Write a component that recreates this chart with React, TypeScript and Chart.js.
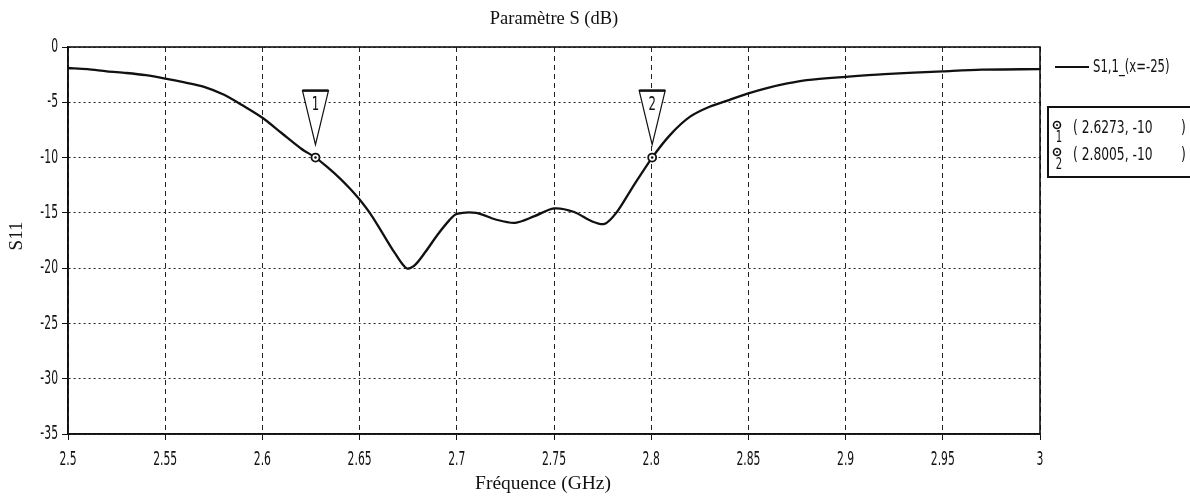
import React, { useEffect, useRef } from "react";
import { Chart, registerables } from "chart.js";

Chart.register(...registerables);

// ---- Data ----
const freqGHz = [
  2.5, 2.51, 2.52, 2.53, 2.54, 2.55, 2.56, 2.57, 2.58, 2.59, 2.6, 2.61, 2.62, 2.6273,
  2.633, 2.64, 2.645, 2.65, 2.656, 2.662, 2.668, 2.674, 2.678, 2.684, 2.69, 2.696,
  2.7, 2.71, 2.72, 2.73, 2.74, 2.75, 2.76, 2.77, 2.776, 2.782, 2.79, 2.8005, 2.81,
  2.82, 2.83, 2.84, 2.85, 2.86, 2.87, 2.88, 2.9, 2.92, 2.95, 2.97, 3.0,
];
const s11dB = [
  -1.9, -2.0, -2.2, -2.35, -2.55, -2.85, -3.2, -3.6, -4.3, -5.3, -6.4, -7.8, -9.2, -10,
  -10.8, -11.9, -12.8, -13.8, -15.2, -16.9, -18.6, -20.0, -19.8, -18.5, -17.0, -15.7,
  -15.1, -15.0, -15.6, -15.9, -15.3, -14.6, -14.9, -15.8, -16.0, -15.0, -12.8, -10.0, -7.9,
  -6.3, -5.4, -4.8, -4.2, -3.7, -3.3, -3.0, -2.7, -2.45, -2.2, -2.05, -2.0,
];
const xTicks = [2.5, 2.55, 2.6, 2.65, 2.7, 2.75, 2.8, 2.85, 2.9, 2.95, 3];
const yTicks = [0, -5, -10, -15, -20, -25, -30, -35];
const markerFreqs = [2.6273, 2.8005];
const markerValues = [-10, -10];
const markerLabels = ["1", "2"];
const markerTexts = ["( 2.6273, -10", "( 2.8005, -10"];
const seriesLabel = "S1,1_(x=-25)";
const chartTitle = "Paramètre S (dB)";
const xTitle = "Fréquence (GHz)";
const yTitle = "S11";

const COND = "'DejaVu Sans Condensed', 'DejaVu Sans', sans-serif";
const SERIF = "'Liberation Serif', 'DejaVu Serif', serif";
const INK = "#111111";

function narrowText(
  ctx: CanvasRenderingContext2D,
  text: string,
  x: number,
  y: number,
  size: number,
  sx: number,
  align: CanvasTextAlign
) {
  ctx.save();
  ctx.translate(x, y);
  ctx.scale(sx, 1);
  ctx.font = `${size}px ${COND}`;
  ctx.textAlign = align;
  ctx.textBaseline = "middle";
  ctx.fillText(text, 0, 0);
  ctx.restore();
}

const overlayPlugin = {
  id: "overlay",
  afterDraw(chart: any) {
    const { ctx, chartArea, scales } = chart;
    const { left, right, top, bottom } = chartArea;
    ctx.save();
    // frame
    ctx.strokeStyle = INK;
    ctx.lineWidth = 1.6;
    ctx.setLineDash([]);
    ctx.strokeRect(left, top, right - left, bottom - top);

    // tick labels (from the library's ticks)
    ctx.fillStyle = INK;
    scales.x.ticks.forEach((t: any) => {
      const px = scales.x.getPixelForValue(t.value);
      narrowText(ctx, String(Number(Number(t.value).toFixed(2))), px, bottom + 26, 20, 0.6, "center");
    });
    scales.y.ticks.forEach((t: any) => {
      const py = scales.y.getPixelForValue(t.value);
      narrowText(ctx, String(t.value), left - 10, py, 20, 0.6, "right");
    });

    // titles
    ctx.fillStyle = INK;
    ctx.font = `18.5px ${SERIF}`;
    ctx.textAlign = "center";
    ctx.textBaseline = "middle";
    ctx.fillText(chartTitle, 554, 19);
    ctx.font = `19.5px ${SERIF}`;
    ctx.fillText(xTitle, 543, 484);
    ctx.save();
    ctx.translate(17, 236);
    ctx.rotate(-Math.PI / 2);
    ctx.font = `19px ${SERIF}`;
    ctx.fillText(yTitle, 0, 0);
    ctx.restore();

    // markers
    markerFreqs.forEach((f, i) => {
      const px = scales.x.getPixelForValue(f);
      const py = scales.y.getPixelForValue(markerValues[i]);
      const tTop = py - 67;
      const tip = py - 13;
      ctx.strokeStyle = INK;
      ctx.fillStyle = "#ffffff";
      ctx.lineWidth = 1.2;
      ctx.beginPath();
      ctx.moveTo(px - 13, tTop);
      ctx.lineTo(px + 13, tTop);
      ctx.lineTo(px, tip);
      ctx.closePath();
      ctx.fill();
      ctx.stroke();
      ctx.lineWidth = 2.5;
      ctx.beginPath();
      ctx.moveTo(px - 13, tTop);
      ctx.lineTo(px + 13, tTop);
      ctx.stroke();
      ctx.fillStyle = INK;
      narrowText(ctx, markerLabels[i], px, tTop + 14, 20, 0.65, "center");
      // circle
      ctx.fillStyle = "#ffffff";
      ctx.lineWidth = 1.8;
      ctx.beginPath();
      ctx.arc(px, py, 4, 0, Math.PI * 2);
      ctx.fill();
      ctx.stroke();
      ctx.fillStyle = INK;
      ctx.beginPath();
      ctx.arc(px, py, 1.3, 0, Math.PI * 2);
      ctx.fill();
    });

    // legend line
    ctx.strokeStyle = INK;
    ctx.lineWidth = 2;
    ctx.beginPath();
    ctx.moveTo(1055, 67);
    ctx.lineTo(1089, 67);
    ctx.stroke();
    ctx.fillStyle = INK;
    narrowText(ctx, seriesLabel, 1093, 67, 17.5, 0.74, "left");

    // marker box
    ctx.lineWidth = 2;
    ctx.strokeRect(1048, 107, 150, 70);
    markerTexts.forEach((t, i) => {
      const y = 128 + i * 27;
      ctx.fillStyle = INK;
      narrowText(ctx, t, 1073, y, 17.5, 0.78, "left");
      narrowText(ctx, ")", 1181, y, 17.5, 0.78, "left");
      ctx.lineWidth = 1.6;
      ctx.beginPath();
      ctx.arc(1057, y - 3, 3.5, 0, Math.PI * 2);
      ctx.stroke();
      ctx.beginPath();
      ctx.arc(1057, y - 3, 1, 0, Math.PI * 2);
      ctx.fill();
      narrowText(ctx, markerLabels[i], 1059, y + 10, 16, 0.7, "center");
    });
    ctx.restore();
  },
};

export default function App() {
  const ref = useRef<HTMLCanvasElement | null>(null);
  useEffect(() => {
    const canvas = ref.current;
    if (!canvas) return;
    const chart = new Chart(canvas, {
      type: "line",
      data: {
        datasets: [
          {
            label: seriesLabel,
            data: freqGHz.map((f, i) => ({ x: f, y: s11dB[i] })),
            borderColor: INK,
            borderWidth: 2.3,
            pointRadius: 0,
            tension: 0.3,
            fill: false,
          },
        ],
      },
      options: {
        animation: false,
        responsive: false,
        devicePixelRatio: 1,
        layout: { padding: { left: 0, right: 150, top: 47, bottom: 0 } },
        plugins: {
          legend: { display: false },
          title: { display: false },
          tooltip: { enabled: false },
        },
        scales: {
          x: {
            type: "linear",
            min: 2.5,
            max: 3,
            afterBuildTicks: (scale: any) => {
              scale.ticks = xTicks.map((v) => ({ value: v }));
            },
            afterFit: (scale: any) => {
              scale.height = 62;
            },
            ticks: { display: false, autoSkip: false },
            grid: { color: "#222", lineWidth: 1, tickLength: 6, tickColor: INK },
            border: { display: true, color: INK, width: 1.6, dash: [5, 4] },
          },
          y: {
            type: "linear",
            min: -35,
            max: 0,
            afterBuildTicks: (scale: any) => {
              scale.ticks = yTicks.map((v) => ({ value: v }));
            },
            afterFit: (scale: any) => {
              scale.width = 68;
            },
            ticks: { display: false, autoSkip: false },
            grid: { color: "#222", lineWidth: 1, tickLength: 6, tickColor: INK },
            border: { display: true, color: INK, width: 1.6, dash: [2, 3] },
          },
        },
      },
      plugins: [overlayPlugin],
    });
    return () => chart.destroy();
  }, []);
  return (
    <div style={{ position: "absolute", left: 0, top: 0, width: 1190, height: 496, background: "#fff" }}>
      <canvas ref={ref} width={1190} height={496} style={{ display: "block" }} />
    </div>
  );
}
